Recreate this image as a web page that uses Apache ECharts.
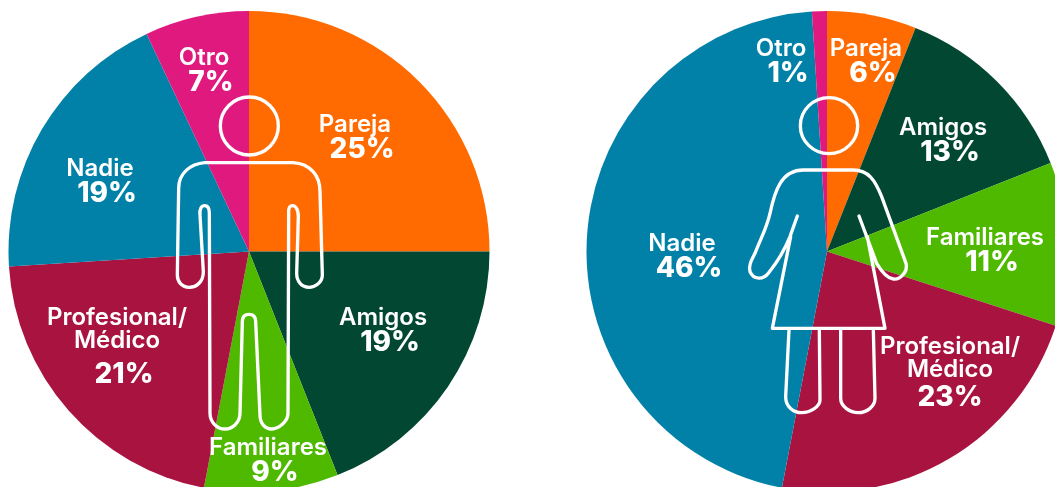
<!DOCTYPE html>
<html><head><meta charset="utf-8">
<style>html,body{margin:0;padding:0;background:#fff;overflow:hidden}#c{width:1055px;height:487px}</style>
<script src="https://cdn.jsdelivr.net/npm/echarts@6/dist/echarts.min.js"></script>
</head><body><div id="c"></div>
<script>
const categoriesMen = ['Pareja','Amigos','Familiares','Profesional/\nMédico','Nadie','Otro'];
const valuesMen = [25,19,9,21,19,7];
const categoriesWomen = ['Pareja','Amigos','Familiares','Profesional/\nMédico','Nadie','Otro'];
const valuesWomen = [6,13,11,23,46,1];
const sliceColors = ['#FF6B00','#014731','#4FB900','#A81340','#0180A8','#E0197F'];
const labelSpotsMen = [[355,138],[383,331],[268,461],[117,352],[100,182],[204,71]];
const labelSpotsWomen = [[866,62],[943,141],[985,251.5],[950,374.5],[682,257],[781,62]];
const manHead = 'M355 108 C355 156 316 195 268 195 C220 195 181 156 181 108 C181 60 220 21 268 21 C316 21 355 60 355 108 Z';
const manPath = 'M268 218 L400 218 C450 222 480 255 480 305 L487 555 C487 578 465 592 447 592 C425 592 410 575 410 550 L415 380 C415 355 405 347 398 347 C388 347 385 355 386 370 L384 970 C384 995 355 1017 335 1017 C315 1017 300 1000 300 975 L287 695 C287 680 280 673 267 673 C254 673 247 680 247 695 L240 970 C240 1000 215 1017 195 1017 C170 1017 150 995 150 970 L148 370 C148 355 142 347 134 347 C125 347 118 355 120 375 L130 545 C130 575 110 592 88 592 C65 592 52 575 52 555 L56 295 C56 250 90 222 135 218 Z';
const womanHead = 'M353 107 C353 153 315 191 267 191 C219 191 181 153 181 107 C181 61 219 23 267 23 C315 23 353 61 353 107 Z';
const womanPath = 'M172 378 L150 440 C130 490 105 525 85 550 C70 570 40 570 30 545 C25 525 35 510 45 490 C60 450 80 415 90 370 C105 300 125 240 190 240 L340 240 C385 240 405 270 425 320 L498 520 C505 545 480 570 460 567 C440 565 425 545 410 520 L357 378 M152 440 L97 715 L435 715 L382 440 M147 720 L137 920 C137 950 160 968 185 968 C210 968 240 950 240 930 L238 720 M302 720 L302 925 C302 950 330 968 355 968 C380 968 405 950 405 925 L400 720';
const font = 'Inter';

function pie(center, cats, vals, spots, profTag) {
  const nameStyle={fontFamily:font,fontWeight:600,fontSize:24,color:'#fff',lineHeight:23,align:'center'};
  const pctStyle={fontFamily:font,fontWeight:800,fontSize:28,color:'#fff',align:'center'};
  return {
    type:'pie', center:center, radius:[0,240.5], startAngle:90, clockwise:true, silent:true, animation:false,
    avoidLabelOverlap:false, labelLine:{show:false},
    data: cats.map((n,i)=>({name:n, value:vals[i], itemStyle:{color:sliceColors[i]}})),
    label:{
      show:true, position:'inside', align:'center', verticalAlign:'middle',
      formatter:p=>{
        const lines=p.name.split('\n').map(l=>'{n|'+l+'}');
        const tag = lines.length>1?profTag:'p';
        return lines.join('\n')+'\n{'+tag+'|'+p.value+'%}';
      },
      rich:{
        n:nameStyle,
        p:{...pctStyle,lineHeight:27,padding:[0,0,0,14]},
        q:{...pctStyle,lineHeight:46,padding:[0,0,0,14]},
        r:{...pctStyle,lineHeight:33}
      }
    },
    labelLayout:p=>({x:spots[p.dataIndex][0],y:spots[p.dataIndex][1],align:'center',verticalAlign:'middle'})
  };
}
const stroke={fill:'none',stroke:'#fff',lineWidth:10,lineJoin:'round',lineCap:'round'};
function figure(ox, oy, head, body){
  return {
    type:'custom', coordinateSystem:'none', silent:true, animation:false, z:100, data:[0],
    renderItem:()=>({type:'group',x:ox,y:oy,scaleX:1/3,scaleY:1/3,children:[
      {type:'path',shape:{pathData:head},style:stroke},
      {type:'path',shape:{pathData:body},style:stroke}
    ]})
  };
}
const chart=echarts.init(document.getElementById('c'),null,{renderer:'canvas'});
chart.setOption({
  backgroundColor:'#fff', animation:false,
  series:[
    pie([249,251.5],categoriesMen,valuesMen,labelSpotsMen,'q'),
    pie([827,251.5],categoriesWomen,valuesWomen,labelSpotsWomen,'r'),
    figure(160,90,manHead,manPath),
    figure(740,90,womanHead,womanPath)
  ]
});
</script></body></html>
